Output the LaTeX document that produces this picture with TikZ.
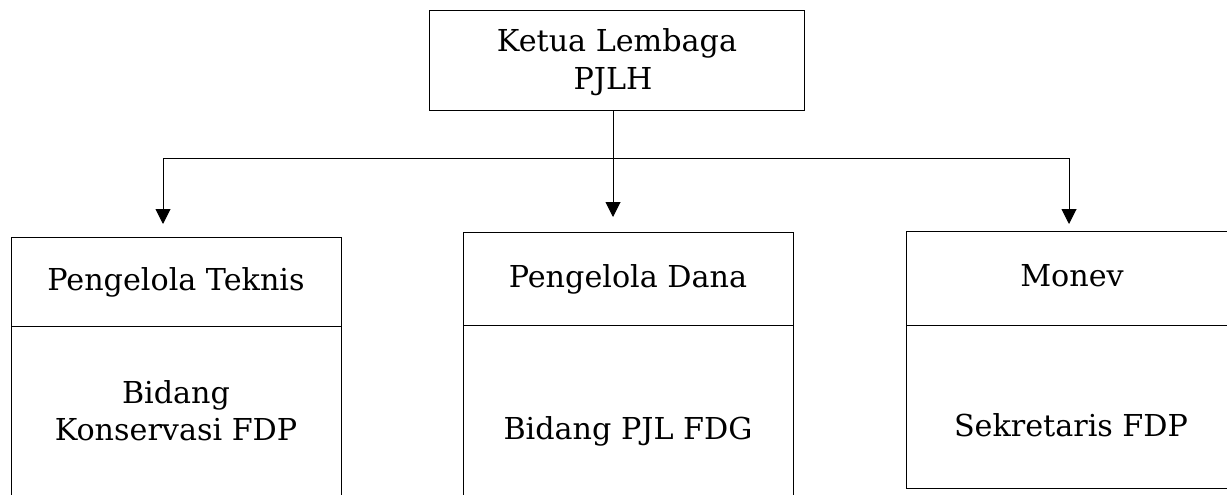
\documentclass[tikz,border=0pt]{standalone}
\usepackage{fontspec}
\setmainfont{DejaVu Serif}
\usetikzlibrary{arrows.meta}
\tikzset{
  x=1pt,y=-1pt,
  box/.style={draw, line width=1pt, inner sep=0pt, minimum width=330pt},
  lbl/.style={anchor=base, inner sep=0pt, font=\fontsize{30.2}{37}\selectfont},
  conn/.style={line width=1pt},
  arr/.style={line width=1pt, -{Triangle[width=15pt,length=15pt]}},
}
\begin{document}
\begin{tikzpicture}
\useasboundingbox (0,0) rectangle (1227,495);
\clip (0,0) rectangle (1227,495);
% top box
\node[box, minimum width=375pt, minimum height=100pt] (top) at (616.5,60.8) {};
\node[lbl] (t1) at (617,51.7) {Ketua Lembaga};
\node[lbl] (t2) at (613,89) {PJLH};
% lower boxes
\node[box, minimum height=300pt, anchor=north west] (L) at (11,237) {};
\node[box, minimum height=300pt, anchor=north west] (M) at (463,232) {};
\node[box, minimum width=332pt, minimum height=257pt, anchor=north west] (R) at (906,231) {};
\draw[conn] (11,326) coordinate (Ld1) -- (341,326) coordinate (Ld2);
\draw[conn] (463,325) coordinate (Md1) -- (793,325) coordinate (Md2);
\draw[conn] (906,325) coordinate (Rd1) -- (1238,325) coordinate (Rd2);
% labels
\node[lbl] (lh) at (176,290.7) {Pengelola Teknis};
\node[lbl] (lb1) at (176,403) {Bidang};
\node[lbl] (lb2) at (176,440) {Konservasi FDP};
\node[lbl] (mh) at (628,287) {Pengelola Dana};
\node[lbl] (mb) at (628,439) {Bidang PJL FDG};
\node[lbl] (rh) at (1072,286.7) {Monev};
\node[lbl] (rb) at (1071,436) {Sekretaris FDP};
% connectors
\coordinate (j) at (613,158.7);
\coordinate (aL) at (163,224);
\coordinate (aM) at (613,217);
\coordinate (aR) at (1069,224);
\draw[conn] (top.south -| j) -- (j);
\draw[arr] (j) -- (aM);
\draw[arr] (j) -| (aL);
\draw[arr] (j) -| (aR);
\end{tikzpicture}
\end{document}
